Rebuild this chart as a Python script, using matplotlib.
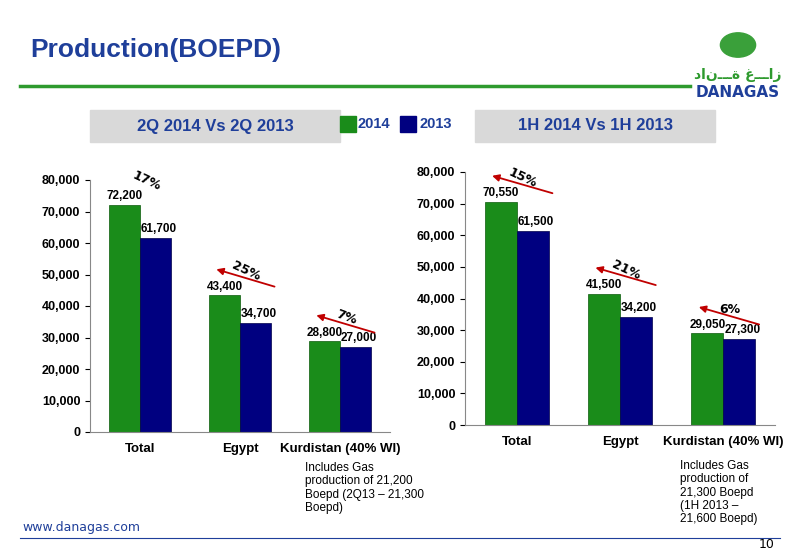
import matplotlib
matplotlib.use("Agg")
import matplotlib.pyplot as plt
from matplotlib.patches import Rectangle

cats = ["Total", "Egypt", "Kurdistan (40% WI)"]
q2_2014 = [72200, 43400, 28800]
q2_2013 = [61700, 34700, 27000]
q2_pct = ["17%", "25%", "7%"]
h1_2014 = [70550, 41500, 29050]
h1_2013 = [61500, 34200, 27300]
h1_pct = ["15%", "21%", "6%"]
yticks = list(range(0, 80001, 10000))

NARROW = ['DejaVu Sans Condensed', 'Liberation Sans']
GREEN = '#1a8c1a'
NAVY = '#000080'

fig = plt.figure(figsize=(8, 5.54), dpi=100)
fig.patch.set_facecolor('white')

fig.text(30/800, 1-50/554, "Production(BOEPD)", color='#1f3f9a', fontsize=19,
         fontweight='bold', family='Liberation Sans', va='center')
fig.add_artist(plt.Line2D([20/800, 690/800], [1-86/554]*2, color='#2e9a2e', lw=2.5))
fig.text(738/800, 1-75/554, "دانـــة غـــاز", color='#2e9a2e', fontsize=10, ha='center', va='center', fontweight='bold')
fig.text(738/800, 1-93/554, "DANAGAS", color='#1f3f9a', fontsize=11, ha='center', va='center', fontweight='bold')
fig.add_artist(plt.Circle((738/800, 1-45/554), 0.022, transform=fig.transFigure, color='#3aa03a'))

for x0, x1, t in [(90, 340, "2Q 2014 Vs 2Q 2013"), (475, 715, "1H 2014 Vs 1H 2013")]:
    fig.add_artist(Rectangle((x0/800, 1-142/554), (x1-x0)/800, 32/554, transform=fig.transFigure,
                             color='#d9d9d9', zorder=0))
    fig.text((x0+x1)/2/800, 1-126/554, t, ha='center', va='center', fontsize=12,
             fontweight='bold', color='#1f3f9a', family='Liberation Sans')
fig.add_artist(Rectangle((340/800, 1-132/554), 16/800, 16/554, transform=fig.transFigure, color=GREEN))
fig.text(358/800, 1-124/554, "2014", fontsize=10.5, fontweight='bold', color='#1f3f9a', va='center', family='Liberation Sans')
fig.add_artist(Rectangle((400/800, 1-132/554), 16/800, 16/554, transform=fig.transFigure, color=NAVY))
fig.text(419/800, 1-124/554, "2013", fontsize=10.5, fontweight='bold', color='#1f3f9a', va='center', family='Liberation Sans')

def panel(rect, a, b, pcts, angles):
    ax = fig.add_axes(rect)
    xs = range(len(cats))
    w = 0.31
    ax.bar([x - w/2 for x in xs], a, w, color=GREEN, edgecolor='#0b5a0b', lw=0.5)
    ax.bar([x + w/2 for x in xs], b, w, color=NAVY, edgecolor='#00004a', lw=0.5)
    for x, v1, v2, p, ang in zip(xs, a, b, pcts, angles):
        ax.text(x - w/2, v1 + 800, f"{v1:,}", ha='center', va='bottom', fontsize=8.5,
                family=NARROW, fontweight='bold')
        ax.text(x + w/2 + 0.03, v2 + 800, f"{v2:,}", ha='center', va='bottom', fontsize=8.5,
                family=NARROW, fontweight='bold')
        y0 = v1 + 5000
        ax.annotate("", xy=(x - w*0.85, y0 + 3500), xytext=(x + w*1.2, y0 - 2500),
                    arrowprops=dict(arrowstyle='-|>', color='#c00000', lw=1.3))
        ax.text(x + w*0.2, y0 + 2500, p, ha='center', va='center', fontsize=9,
                fontweight='bold', rotation=ang)
    ax.set_ylim(0, 80000)
    ax.set_xlim(-0.5, 2.5)
    ax.set_yticks(yticks)
    ax.set_yticklabels([f"{t:,}" for t in yticks], family=NARROW, fontweight='bold', fontsize=9)
    ax.set_xticks(list(xs))
    ax.set_xticklabels(cats, family=NARROW, fontweight='bold', fontsize=9.5)
    ax.tick_params(axis='x', length=0, pad=8)
    for s in ['top', 'right']:
        ax.spines[s].set_visible(False)
    ax.spines['left'].set_color('#888888')
    ax.spines['bottom'].set_color('#888888')
    return ax

panel([90/800, 1-432/554, 300/800, 252/554], q2_2014, q2_2013, q2_pct, [-25, -25, -20])
panel([465/800, 1-425/554, 310/800, 253/554], h1_2014, h1_2013, h1_pct, [-25, -25, 0])

fig.text(305/800, 1-462/554, "Includes Gas\nproduction of 21,200\nBoepd (2Q13 – 21,300\nBoepd)",
         fontsize=8.5, va='top', family='Liberation Sans', linespacing=1.15)
fig.text(680/800, 1-460/554, "Includes Gas\nproduction of\n21,300 Boepd\n(1H 2013 –\n21,600 Boepd)",
         fontsize=8.5, va='top', family='Liberation Sans', linespacing=1.15)
fig.text(22/800, 1-528/554, "www.danagas.com", fontsize=9, color='#1f3f9a', va='center')
fig.add_artist(plt.Line2D([20/800, 780/800], [1-538/554]*2, color='#1f3f9a', lw=0.8))
fig.text(775/800, 1-544/554, "10", fontsize=9, ha='right', va='center')

fig.savefig("out.png", dpi=100)
